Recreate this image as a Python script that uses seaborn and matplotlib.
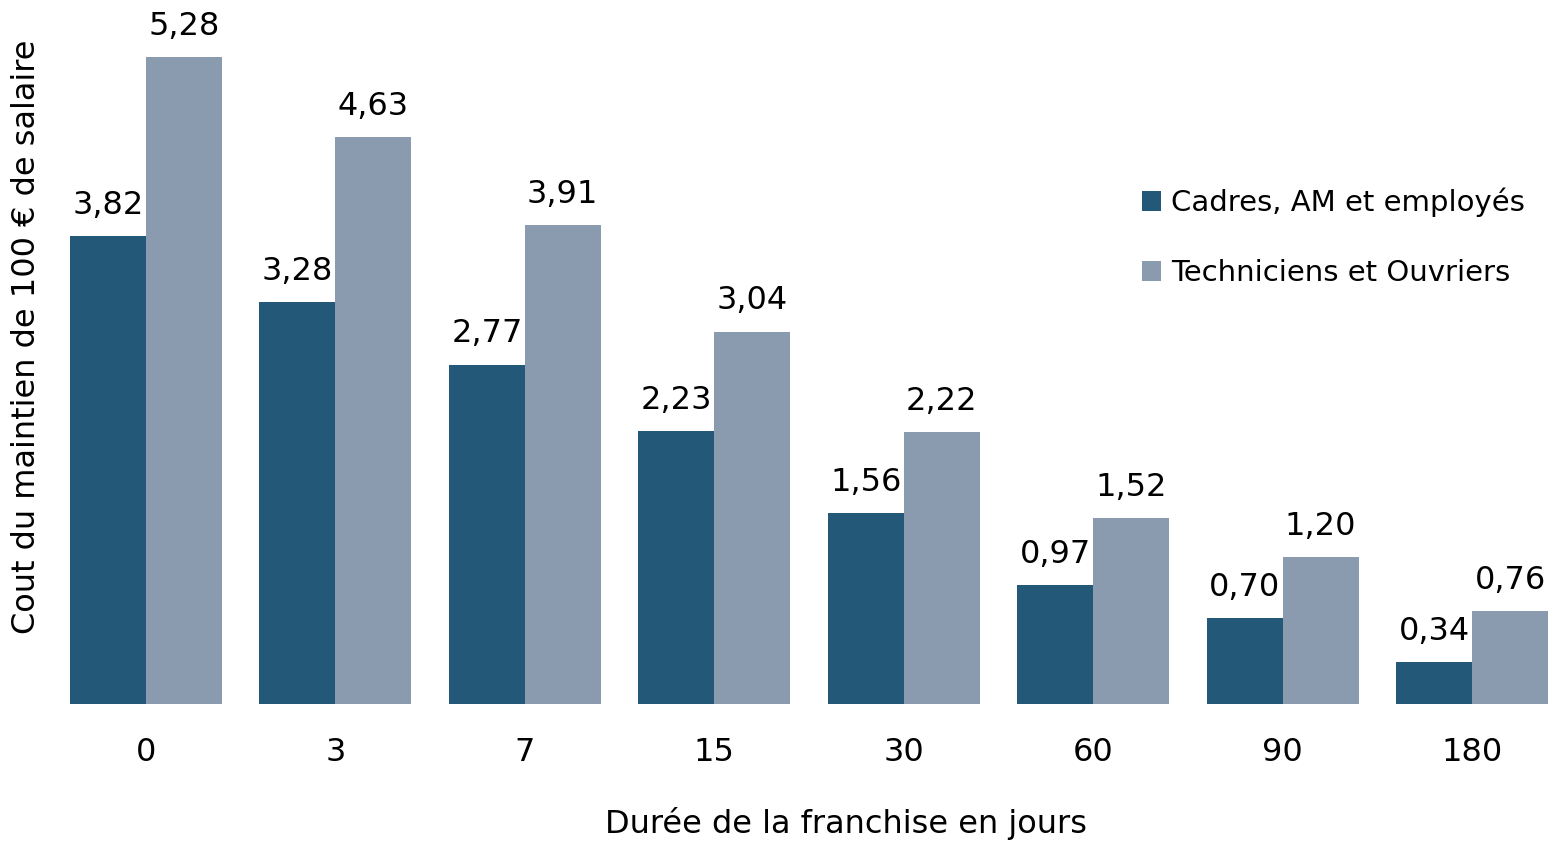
import matplotlib
matplotlib.use("Agg")
import matplotlib.pyplot as plt
import seaborn as sns
import pandas as pd

# Durée de la franchise (jours) et coût du maintien de salaire
franchise = ["0", "3", "7", "15", "30", "60", "90", "180"]
cadres = [3.82, 3.28, 2.77, 2.23, 1.56, 0.97, 0.70, 0.34]
techniciens = [5.28, 4.63, 3.91, 3.04, 2.22, 1.52, 1.20, 0.76]
series = ["Cadres, AM et employés", "Techniciens et Ouvriers"]
colors = ["#235878", "#8A9BAF"]

df = pd.DataFrame({
    "franchise": franchise * 2,
    "cout": cadres + techniciens,
    "groupe": [series[0]] * len(franchise) + [series[1]] * len(franchise),
})

sns.set_theme(style="white")
plt.rcParams["font.family"] = ["DejaVu Sans"]

W, H = 1560, 843
fig = plt.figure(figsize=(W / 100, H / 100), dpi=100)
left, right, bottom, top = 70, 1548, 704, 30
ax = fig.add_axes([left / W, 1 - bottom / H, (right - left) / W, (bottom - top) / H])

sns.barplot(data=df, x="franchise", y="cout", hue="groupe", order=franchise,
            hue_order=series, palette=colors, width=0.8, saturation=1,
            errorbar=None, linewidth=0, ax=ax)

for cont in ax.containers:
    ax.bar_label(cont, labels=[f"{v:.2f}".replace(".", ",") for v in cont.datavalues],
                 padding=11, fontsize=23, color="black")

ax.set_xlim(-0.4, 7.4)
ax.set_ylim(0, (bottom - top) / 122.5)
ax.set_yticks([])
for s in ax.spines.values():
    s.set_visible(False)
ax.tick_params(axis="x", length=0, pad=24, labelsize=23, colors="black")

ax.set_xlabel("Durée de la franchise en jours", fontsize=23, color="black")
ax.xaxis.set_label_coords((846 - left) / (right - left), -(823 - bottom) / (bottom - top), transform=ax.transAxes)
ax.set_ylabel("Cout du maintien de 100 € de salaire", fontsize=23, color="black")
ax.yaxis.set_label_coords(-(left - 27) / (right - left), (bottom - 337) / (bottom - top), transform=ax.transAxes)
ax.xaxis.label.set_va("center")
ax.yaxis.label.set_va("center")

leg = ax.legend(loc="upper left", bbox_to_anchor=(1130 / W, 1 - 176 / H),
                bbox_transform=fig.transFigure, frameon=False, fontsize=21,
                handlelength=0.65, handleheight=0.65, handletextpad=0.35,
                labelspacing=1.45, borderaxespad=0)
for t in leg.get_texts():
    t.set_color("black")

fig.savefig("out.png", dpi=100)
